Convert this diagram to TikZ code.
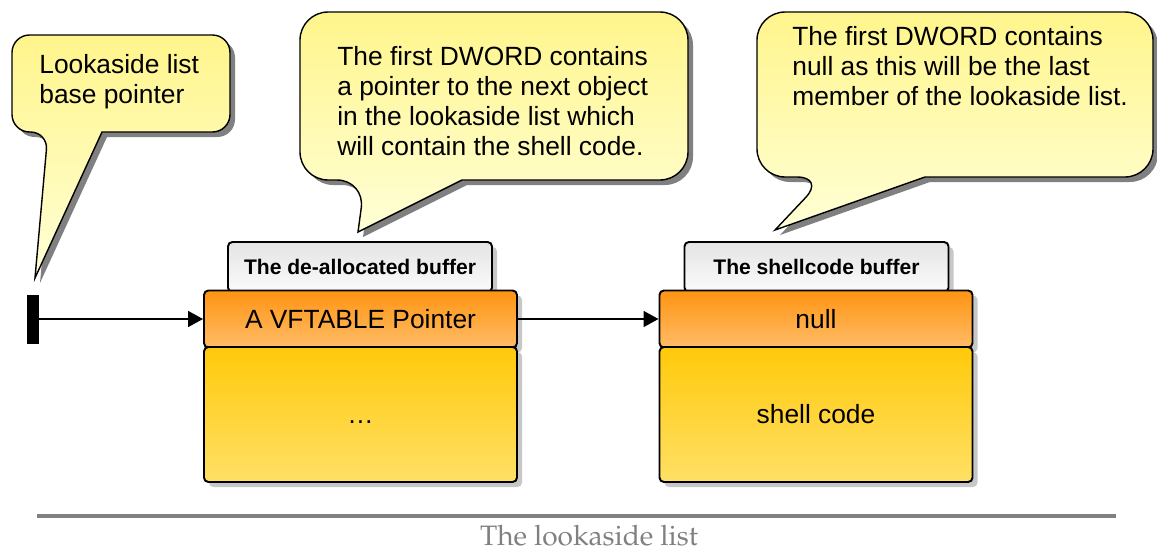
\documentclass[tikz,border=0pt]{standalone}
\usepackage[T1]{fontenc}
\usepackage{fontspec}
\setmainfont{Liberation Sans}
\usetikzlibrary{arrows.meta,shadows}
\definecolor{noteTop}{HTML}{FFF58C}
\definecolor{noteBot}{HTML}{FFFFD6}
\definecolor{tabTop}{HTML}{E4E4E4}
\definecolor{tabBot}{HTML}{FBFBFB}
\definecolor{headTop}{HTML}{FF9412}
\definecolor{headBot}{HTML}{FFBC66}
\definecolor{bodyTop}{HTML}{FFC90A}
\definecolor{bodyBot}{HTML}{FFE066}
\definecolor{capGray}{HTML}{808080}
\def\px{0.02cm}

\begin{document}
\begin{tikzpicture}[x=0.02cm,y=-0.02cm,
  note/.style={draw, line width=0.8pt, top color=noteTop, bottom color=noteBot,
    drop shadow={shadow xshift=0.1cm, shadow yshift=-0.1cm, fill=black!50, opacity=1}},
  notetext/.style={anchor=north west, inner sep=0pt, align=left, font=\fontsize{15pt}{17pt}\selectfont},
  bufbox/.style={draw, line width=1.1pt, rounded corners=2.5pt, inner sep=0pt,
    font=\fontsize{15pt}{17pt}\selectfont, text height=10.7pt, text depth=0pt,
    drop shadow={shadow xshift=0.1cm, shadow yshift=-0.1cm, fill=black!22, opacity=1}},
  tabbox/.style={bufbox, top color=tabTop, bottom color=tabBot, minimum width=264*\px,
    minimum height=50*\px, font=\bfseries\fontsize{12pt}{14pt}\selectfont, text height=8.7pt},
  headbox/.style={bufbox, top color=headTop, bottom color=headBot, minimum width=313*\px, minimum height=57*\px},
  bodybox/.style={bufbox, top color=bodyTop, bottom color=bodyBot, minimum width=313*\px, minimum height=135*\px},
  ptr/.style={line width=1.1pt, -{Triangle[length=8.5pt,width=9pt]}}]
%
\useasboundingbox (0,0) rectangle (1157,555);
%
% callouts
\draw[note] (35,278) -- (102,132) [rounded corners=10pt] -- (230,132) -- (230,35) -- (12,35) -- (12,132) -- (48,132) [sharp corners] -- cycle;
\node[notetext] (noteBase) at (39,54) {Lookaside list\\base pointer};
%
\draw[note] (358,232) -- (462,180) [rounded corners=16pt] -- (688,180) -- (688,12) -- (300,12) -- (300,180) -- (365,180) [sharp corners] -- cycle;
\node[notetext] (noteNext) at (337,46) {The first DWORD contains\\a pointer to the next object\\in the lookaside list which\\will contain the shell code.};
%
\draw[note] (775,230) -- (925,177) [rounded corners=16pt] -- (1153,177) -- (1153,12) -- (757,12) -- (757,177) -- (825,177) [sharp corners] -- cycle;
\node[notetext] (noteNull) at (792,26) {The first DWORD contains\\null as this will be the last\\member of the lookaside list.};
%
% the de-allocated buffer
\node[tabbox] (tabA) at (360,267) {The de-allocated buffer};
\node[headbox] (vftA) at (360.5,319) {A VFTABLE Pointer};
\node[bodybox] (bodyA) at (360.5,414.5) {…};
%
% the shellcode buffer
\node[tabbox] (tabB) at (816.5,267) {The shellcode buffer};
\node[headbox] (nullB) at (816,319) {null};
\node[bodybox] (bodyB) at (816,414.5) {shell code};
%
% base pointer and links
\node[fill=black, inner sep=0pt, minimum width=12*\px, minimum height=49*\px] (basePtr) at (33,319) {};
\draw[ptr] (basePtr.east) -- (vftA.west);
\draw[ptr] (vftA.east) -- (nullB.west);
%
% caption
\draw[line width=2.3pt, color=capGray] (37,516) -- (1116,516);
\node[anchor=base, inner sep=0pt, text depth=0pt, text=capGray, font=\fontencoding{T1}\fontfamily{ppl}\fontsize{16pt}{19pt}\selectfont] (caption) at (589,545) {The lookaside list};
%
\end{tikzpicture}
\end{document}
